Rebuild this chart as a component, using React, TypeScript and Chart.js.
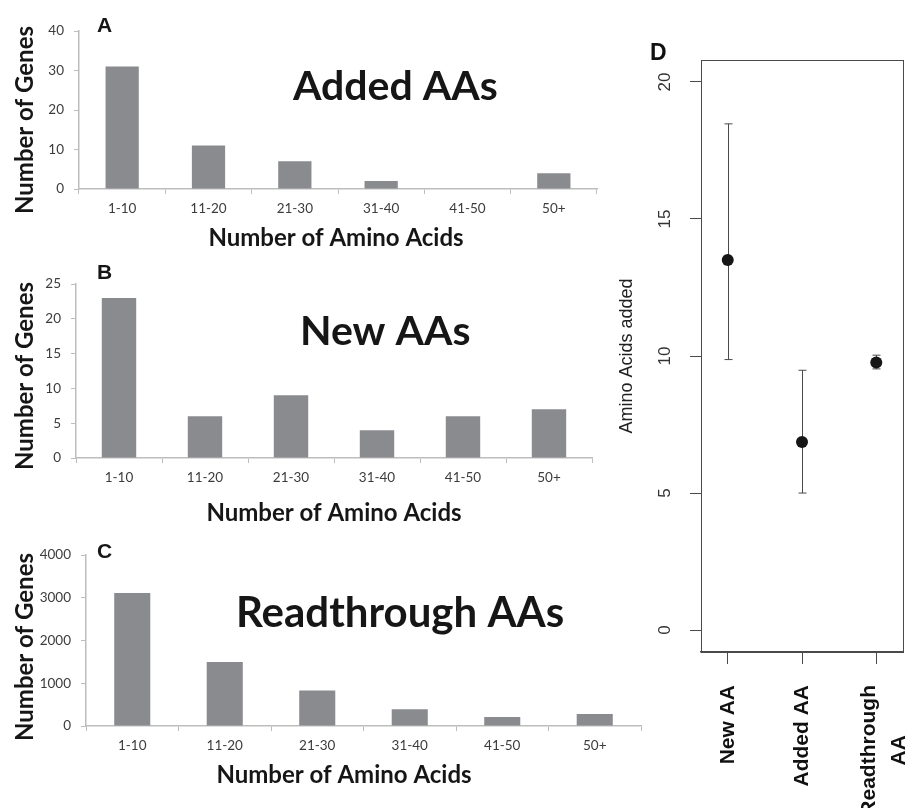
import React, { useEffect, useRef } from 'react';
import { Chart, registerables } from 'chart.js';

Chart.register(...registerables);

const W = 909;
const H = 808;

// ---------- data ----------
const BIN_LABELS = ['1-10', '11-20', '21-30', '31-40', '41-50', '50+'];
const ADDED_COUNTS = [31, 11, 7, 2, 0, 4];
const NEW_COUNTS = [23, 6, 9, 4, 6, 7];
const READTHROUGH_COUNTS = [3110, 1500, 830, 390, 210, 280];

const D_CATEGORIES = ['New AA', 'Added AA', 'Readthrough\nAA'];
const D_MEANS = [13.5, 6.86, 9.76];
const D_LOWER = [9.87, 5.0, 9.53];
const D_UPPER = [18.47, 9.48, 10.03];
const D_Y_TICKS = [0, 5, 10, 15, 20];

// ---------- styles ----------
const BAR_COLOR = '#8a8b8f';
const AXIS_GRAY = '#bdbdbd';
const TICK_COLOR = '#3c3c3c';
const TICK_FONT = { family: 'Lato', size: 13.5 };

type TextItem = {
  text: string; x: number; y: number; font: string; color?: string;
  align?: CanvasTextAlign; baseline?: CanvasTextBaseline; rotate?: number;
};

function textPlugin(items: TextItem[]) {
  return {
    id: 'pageTexts',
    afterDraw(chart: any) {
      const ctx = chart.ctx;
      for (const t of items) {
        ctx.save();
        ctx.font = t.font;
        ctx.fillStyle = t.color || '#161616';
        ctx.textAlign = t.align || 'left';
        ctx.textBaseline = t.baseline || 'alphabetic';
        ctx.translate(t.x, t.y);
        if (t.rotate) ctx.rotate(t.rotate);
        ctx.fillText(t.text, 0, 0);
        ctx.restore();
      }
    },
  };
}

type Area = { left: number; right: number; top: number; bottom: number };

function barConfig(counts: number[], yMax: number, yStep: number, area: Area, barPct: number, texts: TextItem[]) {
  const xAxisH = 40;
  return {
    type: 'bar',
    data: {
      labels: BIN_LABELS,
      datasets: [{ data: counts, backgroundColor: BAR_COLOR, barPercentage: barPct, categoryPercentage: 1 }],
    },
    options: {
      responsive: false,
      animation: false,
      events: [],
      layout: { padding: { left: 0, top: area.top, right: W - area.right, bottom: H - area.bottom - xAxisH } },
      plugins: { legend: { display: false }, tooltip: { enabled: false } },
      scales: {
        x: {
          grid: { display: true, drawOnChartArea: false, drawTicks: true, tickLength: 5, color: AXIS_GRAY, offset: true },
          border: { display: true, color: AXIS_GRAY, width: 1.5 },
          ticks: { font: TICK_FONT, color: TICK_COLOR, padding: 7, maxRotation: 0, minRotation: 0, autoSkip: false },
          afterFit: (s: any) => { s.height = xAxisH; },
        },
        y: {
          min: 0,
          max: yMax,
          grid: { display: true, drawOnChartArea: false, drawTicks: true, tickLength: 5, color: AXIS_GRAY },
          border: { display: true, color: AXIS_GRAY, width: 1.5 },
          ticks: { stepSize: yStep, font: TICK_FONT, color: TICK_COLOR, padding: 10, callback: (v: number) => String(v) },
          afterFit: (s: any) => { s.width = area.left; },
        },
      },
    },
    plugins: [textPlugin(texts)],
  };
}

const ROT = -Math.PI / 2;
const TITLE_FONT = 'bold 41px Lato';
const AXIS_TITLE_FONT = 'bold 24px Lato';
const LETTER_FONT = 'bold 21px "Liberation Sans"';

const configA = () => barConfig(ADDED_COUNTS, 40, 10, { left: 79, right: 597, top: 31, bottom: 189 }, 0.385, [
  { text: 'A', x: 97, y: 32, font: LETTER_FONT },
  { text: 'Added AAs', x: 293, y: 100, font: TITLE_FONT },
  { text: 'Number of Genes', x: 25, y: 120, font: AXIS_TITLE_FONT, rotate: ROT, align: 'center', baseline: 'middle' },
  { text: 'Number of Amino Acids', x: 336, y: 238, font: AXIS_TITLE_FONT, align: 'center', baseline: 'middle' },
]);

const configB = () => barConfig(NEW_COUNTS, 25, 5, { left: 76, right: 592, top: 284, bottom: 458 }, 0.4, [
  { text: 'B', x: 97, y: 279, font: LETTER_FONT },
  { text: 'New AAs', x: 300, y: 345, font: TITLE_FONT },
  { text: 'Number of Genes', x: 25, y: 376, font: AXIS_TITLE_FONT, rotate: ROT, align: 'center', baseline: 'middle' },
  { text: 'Number of Amino Acids', x: 334, y: 513, font: AXIS_TITLE_FONT, align: 'center', baseline: 'middle' },
]);

const configC = () => barConfig(READTHROUGH_COUNTS, 4000, 1000, { left: 86, right: 641, top: 555, bottom: 726 }, 0.39, [
  { text: 'C', x: 97, y: 558, font: LETTER_FONT },
  { text: 'Readthrough AAs', x: 236, y: 627, font: 'bold 42px Lato' },
  { text: 'Number of Genes', x: 25, y: 647, font: AXIS_TITLE_FONT, rotate: ROT, align: 'center', baseline: 'middle' },
  { text: 'Number of Amino Acids', x: 344, y: 775, font: AXIS_TITLE_FONT, align: 'center', baseline: 'middle' },
]);

const D_LINE = '#4a4a4a';

const dPlugin = {
  id: 'dPanel',
  beforeDatasetsDraw(chart: any) {
    const ctx = chart.ctx;
    const xs = chart.scales.x;
    const ys = chart.scales.y;
    ctx.save();
    ctx.strokeStyle = D_LINE;
    ctx.lineWidth = 1;
    D_MEANS.forEach((_, i) => {
      const px = Math.round(xs.getPixelForValue(i + 1)) + 0.5;
      const yTop = ys.getPixelForValue(D_UPPER[i]);
      const yBot = ys.getPixelForValue(D_LOWER[i]);
      ctx.beginPath();
      ctx.moveTo(px, yTop);
      ctx.lineTo(px, yBot);
      ctx.moveTo(px - 4, yTop);
      ctx.lineTo(px + 4, yTop);
      ctx.moveTo(px - 4, yBot);
      ctx.lineTo(px + 4, yBot);
      ctx.stroke();
    });
    ctx.restore();
  },
  afterDraw(chart: any) {
    const ctx = chart.ctx;
    const a = chart.chartArea;
    const xs = chart.scales.x;
    const ys = chart.scales.y;
    ctx.save();
    // frame
    ctx.strokeStyle = D_LINE;
    ctx.lineWidth = 1;
    ctx.strokeRect(Math.round(a.left) + 0.5, Math.round(a.top) + 0.5, Math.round(a.right - a.left), Math.round(a.bottom - a.top));
    // y tick labels (rotated)
    ctx.font = '17px "Liberation Sans"';
    ctx.fillStyle = '#333';
    ctx.textAlign = 'center';
    ctx.textBaseline = 'middle';
    for (const t of ys.ticks) {
      const y = ys.getPixelForValue(t.value);
      ctx.save();
      ctx.translate(a.left - 36, y);
      ctx.rotate(ROT);
      ctx.fillText(String(t.value), 0, 0);
      ctx.restore();
    }
    // x tick labels (rotated, bold)
    ctx.font = 'bold 21px "Liberation Sans"';
    ctx.fillStyle = '#111';
    D_CATEGORIES.forEach((label, i) => {
      const px = xs.getPixelForValue(i + 1);
      const lines = label.split('\n');
      const n = lines.length;
      const maxW = Math.max(...lines.map((l) => ctx.measureText(l).width));
      const cy = a.bottom + 33 + maxW / 2;
      lines.forEach((line, j) => {
        const cx = px + (j - (n - 1) / 2) * 30 + (n > 1 ? 8 : 0);
        ctx.save();
        ctx.translate(cx, cy);
        ctx.rotate(ROT);
        ctx.fillText(line, 0, 0);
        ctx.restore();
      });
    });
    ctx.restore();
  },
};

const configD = () => {
  const xAxisH = 40;
  return {
    type: 'scatter',
    data: {
      datasets: [{
        data: D_MEANS.map((m, i) => ({ x: i + 1, y: m })),
        pointRadius: 6,
        pointBackgroundColor: '#161616',
        pointBorderColor: '#161616',
        pointBorderWidth: 0,
        showLine: false,
      }],
    },
    options: {
      responsive: false,
      animation: false,
      events: [],
      layout: { padding: { left: 0, top: 60, right: W - 903, bottom: H - 652 - xAxisH } },
      plugins: { legend: { display: false }, tooltip: { enabled: false } },
      scales: {
        x: {
          type: 'linear',
          min: 0.64,
          max: 3.36,
          afterBuildTicks: (s: any) => { s.ticks = D_CATEGORIES.map((_, i) => ({ value: i + 1 })); },
          ticks: { display: false },
          grid: { display: true, drawOnChartArea: false, drawTicks: true, tickLength: 12, color: D_LINE },
          border: { display: true, color: D_LINE, width: 1.5 },
          afterFit: (s: any) => { s.height = xAxisH; },
        },
        y: {
          type: 'linear',
          min: -0.8,
          max: 20.8,
          afterBuildTicks: (s: any) => { s.ticks = D_Y_TICKS.map((v) => ({ value: v })); },
          ticks: { display: false },
          grid: { display: true, drawOnChartArea: false, drawTicks: true, tickLength: 11, color: D_LINE },
          border: { display: true, color: D_LINE, width: 1 },
          afterFit: (s: any) => { s.width = 701; },
        },
      },
    },
    plugins: [dPlugin, textPlugin([
      { text: 'D', x: 650, y: 60, font: 'bold 23px "Liberation Sans"', color: '#111' },
      { text: 'Amino Acids added', x: 627, y: 356, font: '18px "Liberation Sans"', color: '#222', rotate: ROT, align: 'center', baseline: 'middle' },
    ])],
  };
};

function ChartCanvas({ config }: { config: () => any }) {
  const ref = useRef<HTMLCanvasElement | null>(null);
  useEffect(() => {
    if (!ref.current) return;
    const chart = new Chart(ref.current, config());
    return () => chart.destroy();
  }, [config]);
  return (
    <canvas
      ref={ref}
      width={W}
      height={H}
      style={{ position: 'absolute', left: 0, top: 0, width: W, height: H }}
    />
  );
}

export default function App() {
  return (
    <div style={{ position: 'absolute', left: 0, top: 0, width: W, height: H, background: '#ffffff', overflow: 'hidden' }}>
      <ChartCanvas config={configA} />
      <ChartCanvas config={configB} />
      <ChartCanvas config={configC} />
      <ChartCanvas config={configD} />
    </div>
  );
}
